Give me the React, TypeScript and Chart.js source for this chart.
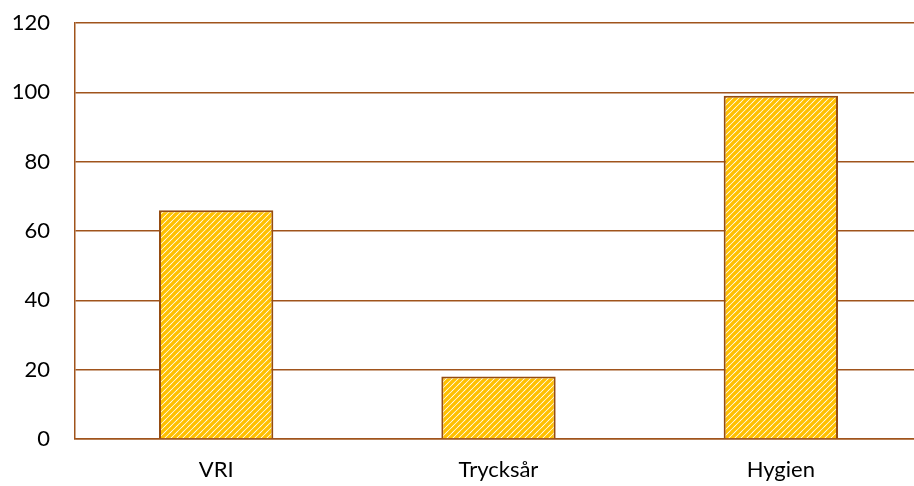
import React, { useEffect, useRef } from "react";
import { Chart, registerables } from "chart.js";

Chart.register(...registerables);

const categories = ["VRI", "Trycksår", "Hygien"];
const values = [66, 18, 99];
const yTicks = [0, 20, 40, 60, 80, 100, 120];

function makePattern(): CanvasPattern | string {
  const c = document.createElement("canvas");
  const s = 6;
  c.width = s;
  c.height = s;
  const ctx = c.getContext("2d");
  if (!ctx) return "#FFC000";
  ctx.fillStyle = "#ffffff";
  ctx.fillRect(0, 0, s, s);
  ctx.strokeStyle = "#FFC000";
  ctx.lineWidth = 3.4;
  ctx.beginPath();
  for (let k = -1; k <= 1; k++) {
    ctx.moveTo(k * s - 1, s + 1);
    ctx.lineTo(k * s + s + 1, -1);
  }
  ctx.stroke();
  const p = ctx.createPattern(c, "repeat");
  return p || "#FFC000";
}

export default function App() {
  const ref = useRef<HTMLCanvasElement | null>(null);
  useEffect(() => {
    if (!ref.current) return;
    const brown = "#A0541C";
    const chart = new Chart(ref.current, {
      type: "bar",
      data: {
        labels: categories,
        datasets: [
          {
            data: values,
            backgroundColor: makePattern(),
            borderColor: "#954C12",
            borderWidth: 2,
            barPercentage: 0.405,
            categoryPercentage: 1,
          },
        ],
      },
      options: {
        animation: false,
        responsive: false,
        maintainAspectRatio: false,
        layout: { padding: { top: 23, right: 0, left: 0, bottom: 0 } },
        plugins: { legend: { display: false }, tooltip: { enabled: false } },
        scales: {
          x: {
            grid: { display: false, drawTicks: false },
            border: { display: true, color: brown, width: 1.5 },
            ticks: {
              color: "#000",
              font: { family: "Lato", size: 22 },
              padding: 18,
            },
            afterFit: (s: any) => {
              s.height = 47;
              s.paddingLeft = 0;
              s.paddingRight = 0;
            },
          },
          y: {
            min: 0,
            max: 120,
            afterBuildTicks: (s: any) => {
              s.ticks = yTicks.map((v) => ({ value: v }));
            },
            grid: { color: brown, lineWidth: 1.5, drawTicks: false },
            border: { display: true, color: brown, width: 1.5 },
            ticks: {
              color: "#000",
              font: { family: "Lato", size: 22 },
              padding: 25,
            },
            afterFit: (s: any) => {
              s.width = 75;
              s.paddingTop = 0;
              s.paddingBottom = 0;
            },
          },
        },
      },
    });
    return () => chart.destroy();
  }, []);
  return (
    <div style={{ position: "fixed", left: 0, top: 0, width: 914, height: 486, background: "#fff", overflow: "hidden" }}>
      <canvas ref={ref} width={922} height={486} style={{ width: 922, height: 486, display: "block" }} />
    </div>
  );
}
